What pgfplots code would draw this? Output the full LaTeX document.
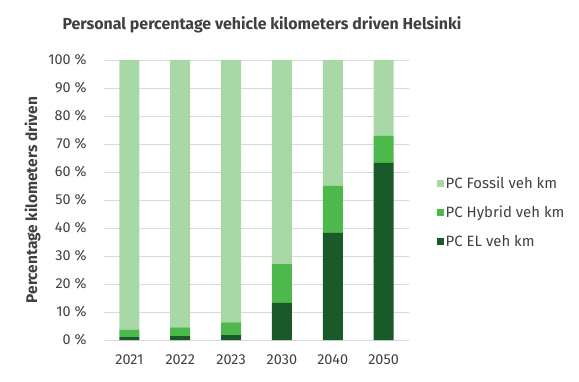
\documentclass[border=0pt]{standalone}
\usepackage{fontspec}
\setmainfont{Fira Sans}
\usepackage{pgfplots}
\pgfplotsset{compat=1.18}
\definecolor{fossil}{HTML}{A8D8A6}
\definecolor{hybrid}{HTML}{4DB84B}
\definecolor{el}{HTML}{1A5A2A}
\definecolor{txt}{HTML}{404040}
\definecolor{grd}{HTML}{D9D9D9}
\begin{document}
\begin{tikzpicture}
\path[use as bounding box] (-104bp,-42bp) rectangle (475bp,340bp);
\begin{axis}[
  at={(0,0)}, anchor=south west,
  scale only axis, width=305bp, height=280bp,
  ybar stacked, bar width=20bp,
  xmin=-0.5, xmax=5.5, ymin=0, ymax=100,
  xtick=data, xticklabels={2021,2022,2023,2030,2040,2050},
  ytick={0,10,...,100},
  yticklabel={\pgfmathprintnumber{\tick} \%},
  /pgf/number format/assume math mode=true,
  ymajorgrids, grid style={grd, line width=0.8pt},
  axis line style={draw=none},
  axis x line*=bottom,
  x axis line style={grd, line width=0.8pt},
  tick style={draw=none},
  ticklabel style={font=\fontsize{14.5}{16}\selectfont, text=txt},
  yticklabel style={xshift=-14bp},
  xticklabel style={yshift=-11bp},
  ylabel={\textbf{Percentage kilometers driven}},
  ylabel style={font=\fontsize{15.5}{17}\selectfont, text=txt, yshift=1bp},
  legend style={draw=none, at={(1.09,0.457)}, anchor=west, font=\fontsize{15}{17}\selectfont, text=txt, row sep=12bp, fill=none, inner xsep=0pt},
  legend cell align=left,
  legend image code/.code={\fill[#1] (0bp,-3.5bp) rectangle (7bp,3.5bp);},
  reverse legend,
]
\addplot[fill=el, draw=none] coordinates {(0,1.0) (1,1.4) (2,1.7) (3,13.3) (4,38.3) (5,63.3)};
\addplot[fill=hybrid, draw=none] coordinates {(0,2.7) (1,3.1) (2,4.6) (3,13.8) (4,16.7) (5,9.6)};
\addplot[fill=fossil, draw=none] coordinates {(0,96.3) (1,95.5) (2,93.7) (3,72.9) (4,45.0) (5,27.1)};
\legend{PC EL veh km, PC Hybrid veh km, PC Fossil veh km}
\end{axis}
\node[font=\fontsize{16}{18}\selectfont\bfseries, text=txt] at (158bp,315bp) {Personal percentage vehicle kilometers driven Helsinki};
\end{tikzpicture}
\end{document}
